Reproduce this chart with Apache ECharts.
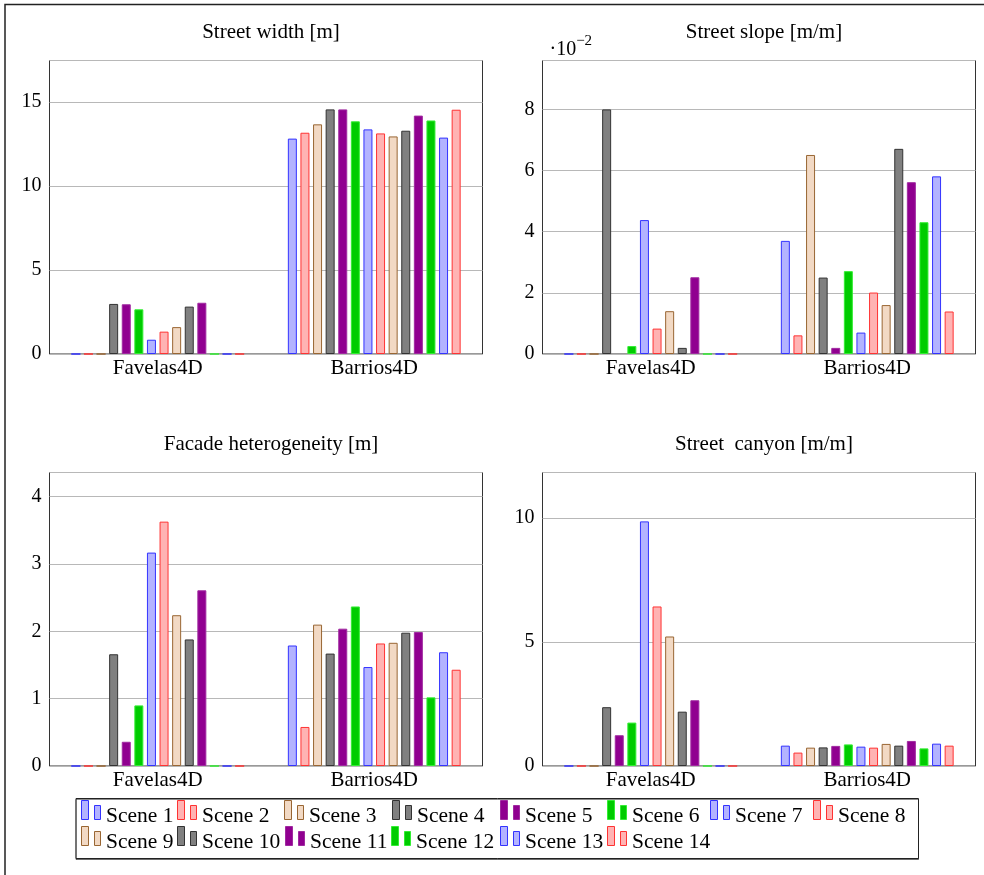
<!DOCTYPE html>
<html><head><meta charset="utf-8">
<script src="https://cdn.jsdelivr.net/npm/echarts@6/dist/echarts.min.js"></script>
<style>html,body{margin:0;padding:0;background:#fff}#c{width:984px;height:875px}</style>
</head><body><div id="c"></div>
<script>
// ---------------- data ----------------
const categories = ['Favelas4D', 'Barrios4D'];
const scenes = ['Scene 1','Scene 2','Scene 3','Scene 4','Scene 5','Scene 6','Scene 7',
                'Scene 8','Scene 9','Scene 10','Scene 11','Scene 12','Scene 13','Scene 14'];

const streetWidthFavelas = [0, 0, 0, 2.98, 2.96, 2.66, 0.85, 1.33, 1.60, 2.82, 3.05, 0, 0, 0];
const streetWidthBarrios = [12.82, 13.17, 13.67, 14.56, 14.56, 13.85, 13.37, 13.13, 12.95, 13.29, 14.19, 13.90, 12.88, 14.54];

const streetSlopeFavelas = [0, 0, 0, 0.0800, null, 0.0026, 0.0438, 0.0083, 0.0140, 0.0020, 0.0251, 0, 0, 0];
const streetSlopeBarrios = [0.0370, 0.0061, 0.0651, 0.0250, 0.0020, 0.0271, 0.0070, 0.0201, 0.0160, 0.0671, 0.0562, 0.0431, 0.0581, 0.0139];

const facadeFavelas = [0, 0, 0, 1.66, 0.36, 0.90, 3.17, 3.63, 2.24, 1.88, 2.61, 0, 0, 0];
const facadeBarrios = [1.79, 0.58, 2.10, 1.67, 2.04, 2.37, 1.47, 1.82, 1.83, 1.98, 1.99, 1.02, 1.69, 1.43];

const canyonFavelas = [0, 0, 0, 2.37, 1.24, 1.75, 9.86, 6.43, 5.22, 2.19, 2.65, 0, 0, 0];
const canyonBarrios = [0.82, 0.54, 0.74, 0.75, 0.81, 0.87, 0.78, 0.74, 0.89, 0.82, 1.01, 0.71, 0.90, 0.82];

const titles = ['Street width [m]', 'Street slope [m/m]', 'Facade heterogeneity [m]', 'Street  canyon [m/m]'];
const widthTicks  = [0, 5, 10, 15];
const slopeTicks  = [0, 0.02, 0.04, 0.06, 0.08];
const facadeTicks = [0, 1, 2, 3, 4];
const canyonTicks = [0, 5, 10];
const axisMax = [17.47, 0.096, 4.36, 11.83];

// ---------------- styles ----------------
const FONT = '"Liberation Serif", "DejaVu Serif", serif';
const palette = [
  {fill:'#b3b3ff', border:'#3333ff'},
  {fill:'#ffb3b3', border:'#ff3333'},
  {fill:'#f2d9c4', border:'#996633'},
  {fill:'#808080', border:'#333333'},
  {fill:'#900090', border:'#a02aa0'},
  {fill:'#00cc00', border:'#33ee33'}
];
const grids = [
  {left:49.5,  top:60.5,  width:433, height:293.5},
  {left:542.5, top:60.5,  width:433, height:293.5},
  {left:49.5,  top:472.5, width:433, height:293.5},
  {left:542.5, top:472.5, width:433, height:293.5}
];
const panels = [
  {fav: streetWidthFavelas,  bar: streetWidthBarrios,  ticks: widthTicks},
  {fav: streetSlopeFavelas,  bar: streetSlopeBarrios,  ticks: slopeTicks},
  {fav: facadeFavelas,       bar: facadeBarrios,       ticks: facadeTicks},
  {fav: canyonFavelas,       bar: canyonBarrios,       ticks: canyonTicks}
];
const legendPos = [
  [81,800],[177,800],[284,800],[392,800],[500,800],[607,800],[710,800],[813,800],
  [81,826],[177,826],[285,826],[391,826],[500,826],[607,826]
];

const chart = echarts.init(document.getElementById('c'), null, {renderer:'canvas'});

const series = [];
panels.forEach((p, pi) => {
  scenes.forEach((s, i) => {
    const st = palette[i % palette.length];
    series.push({
      type: 'bar', name: s, xAxisIndex: pi, yAxisIndex: pi,
      data: [p.fav[i], p.bar[i]],
      barWidth: 9, barGap: '40%',
      itemStyle: {color: st.fill, borderColor: st.border, borderWidth: 1},
      emphasis: {disabled: true},
      animation: false
    });
  });
});

const option = {
  animation: false,
  backgroundColor: '#fff',
  title: grids.map((g, i) => ({
    text: titles[i],
    left: g.left + g.width / 2,
    top: g.top - 44,
    textAlign: 'center',
    textStyle: {fontFamily: FONT, fontSize: 21, fontWeight: 'normal', color: '#000'}
  })),
  grid: grids.map(g => Object.assign({show: true, borderColor: '#333', borderWidth: 1, backgroundColor: 'transparent', containLabel: false}, g)),
  xAxis: grids.map((g, i) => ({
    type: 'category', gridIndex: i, data: categories, boundaryGap: true,
    axisLine: {show: false}, axisTick: {show: false},
    axisLabel: {fontFamily: FONT, fontSize: 21, color: '#000', margin: 4},
    splitLine: {show: false}
  })),
  yAxis: panels.map((p, i) => {
    const y = {
      type: 'value', gridIndex: i, min: 0, max: axisMax[i],
      interval: p.ticks[1] - p.ticks[0],
      axisLine: {show: false}, axisTick: {show: false},
      axisLabel: {fontFamily: FONT, fontSize: 20, color: '#000', margin: 8, showMaxLabel: false,
        formatter: i === 1 ? (v => String(Math.round(v * 100))) : (v => String(v))},
      splitLine: {show: true, lineStyle: {color: '#b8b8b8', width: 1}}
    };
    if (i === 1) {
      y.name = '{a|·10}{b|−2}';
      y.nameLocation = 'end';
      y.nameGap = 1;
      y.nameTextStyle = {
        align: 'left', verticalAlign: 'bottom', padding: [0, 0, 0, 7],
        rich: {
          a: {fontFamily: FONT, fontSize: 20, color: '#000', lineHeight: 26, verticalAlign: 'bottom'},
          b: {fontFamily: FONT, fontSize: 15, color: '#000', lineHeight: 15, verticalAlign: 'top'}
        }
      };
    }
    return y;
  }),
  legend: scenes.map((s, i) => ({
    data: [s],
    left: legendPos[i][0], top: legendPos[i][1],
    padding: 0, itemGap: 0,
    itemWidth: 20, itemHeight: 19,
    icon: 'path://M0,0H7V19H0Z M13,5H19V19H13Z',
    itemStyle: {borderWidth: 1},
    selectedMode: false,
    formatter: '{t|{name}}',
    textStyle: {
      fontFamily: FONT, fontSize: 21.5, color: '#000',
      rich: {t: {fontFamily: FONT, fontSize: 21.5, color: '#000', padding: [12, 0, 0, 0]}}
    }
  })),
  graphic: [
    {type: 'rect', z: -10, silent: true,
     shape: {x: 5, y: 4.5, width: 1100, height: 1000},
     style: {fill: 'none', stroke: '#222', lineWidth: 1.5}},
    {type: 'rect', z: -5, silent: true,
     shape: {x: 76, y: 798.5, width: 842.5, height: 60},
     style: {fill: '#fff', stroke: '#222', lineWidth: 1,
             shadowColor: 'rgba(0,0,0,0.45)', shadowBlur: 0, shadowOffsetX: 0, shadowOffsetY: 1}}
  ],
  series: series
};
chart.setOption(option);
</script></body></html>
